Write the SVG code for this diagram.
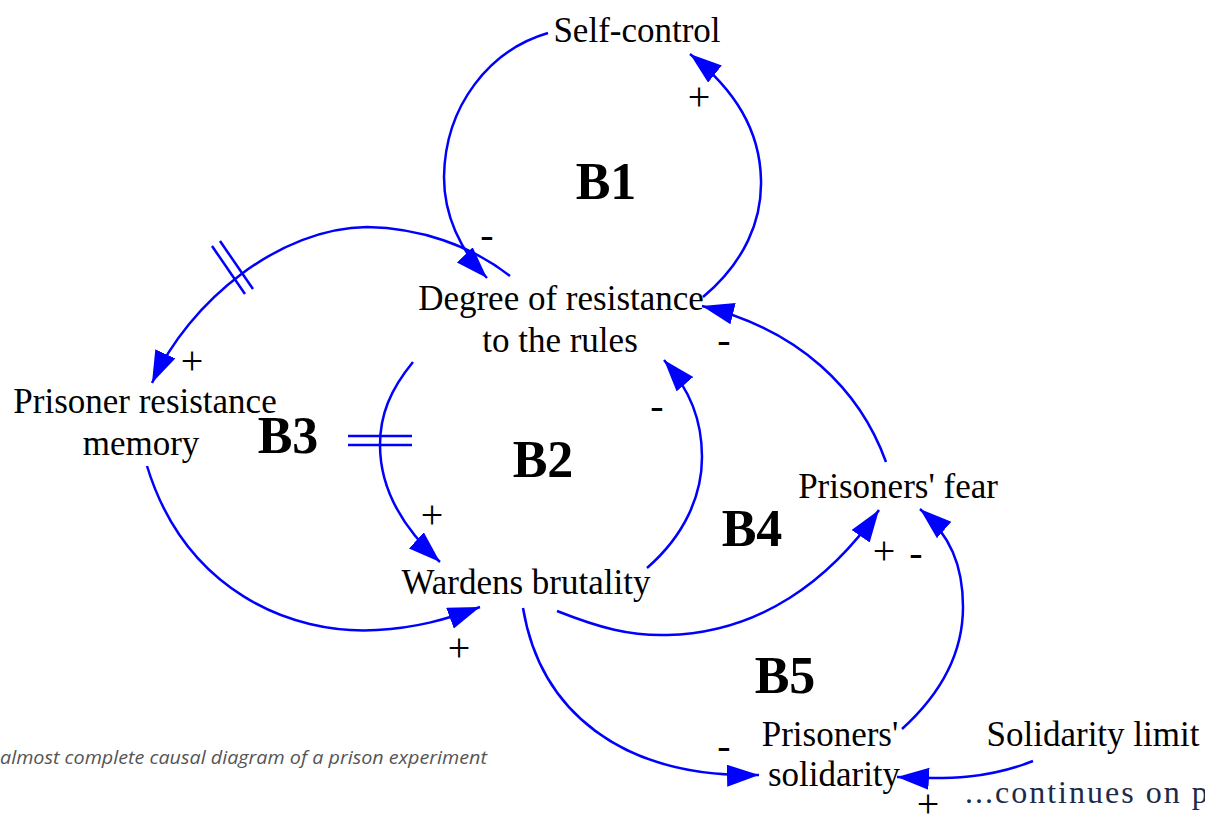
<svg xmlns="http://www.w3.org/2000/svg" width="1205" height="816" viewBox="0 0 1205 816">
<style>
.node{font-family:"Liberation Serif","Times New Roman",serif;font-size:35px;fill:#000;text-anchor:middle}
.loop{font-family:"Liberation Serif","Times New Roman",serif;font-size:52px;font-weight:bold;fill:#000;text-anchor:middle}
.pol{font-family:"Liberation Serif","Times New Roman",serif;font-size:40px;fill:#000;text-anchor:middle}
.link{fill:none;stroke:#0000ff;stroke-width:2.5;marker-end:url(#arr)}
.delay{stroke:#0000ff;stroke-width:2.5;fill:none}
.cap{font-family:"Open Sans","Liberation Sans",sans-serif;font-style:italic;font-size:19px;fill:#555}
.cont{font-family:"Liberation Serif","Times New Roman",serif;font-size:32px;fill:#1c2b4a;letter-spacing:2px}
</style>
<defs>
<marker id="arr" markerUnits="userSpaceOnUse" markerWidth="34" markerHeight="24" refX="32" refY="11" orient="auto">
<path d="M0,0 L32,11 L0,22 z" fill="#0000ff"/>
</marker>
</defs>
<rect width="1205" height="816" fill="#fff"/>
<g id="connectors">
<path class="link" d="M548,33 C490,50 445,105 444,177 C444,215 460,250 487,278"/>
<path class="link" d="M703,297 C745,262 762,220 761,180 C760,130 735,90 690,54"/>
<path class="link" d="M510,276 C470,245 420,228 367,227 C280,228 190,300 152,383"/>
<path class="link" d="M413,362 C390,390 380,415 380,445 C380,490 405,530 440,562"/>
<path class="link" d="M647,568 C685,535 702,495 702,457 C702,420 690,390 664,360"/>
<path class="link" d="M147,466 C185,590 290,635 377,630 C415,628 445,620 480,607"/>
<path class="link" d="M557,611 C600,628 630,636 667,635 C760,633 830,580 879,510"/>
<path class="link" d="M886,462 C860,390 800,330 702,306"/>
<path class="link" d="M902,729 C945,690 963,650 963,607 C963,565 950,535 920,509"/>
<path class="link" d="M523,608 C540,710 620,778 759,775"/>
<path class="link" d="M1033,761 C990,778 950,780 897,777"/>
<g id="delays">
<line class="delay" x1="212" y1="246" x2="245" y2="294"/>
<line class="delay" x1="220" y1="241" x2="253" y2="289"/>
<line class="delay" x1="348" y1="436" x2="412" y2="436"/>
<line class="delay" x1="348" y1="445" x2="412" y2="445"/>
</g>
</g>
<g id="self-control"><text class="node" x="637" y="42">Self-control</text></g>
<g id="degree-of-resistance"><text class="node" x="561" y="310">Degree of resistance</text><text class="node" x="560" y="352">to the rules</text></g>
<g id="prisoner-resistance-memory"><text class="node" x="145" y="413">Prisoner resistance</text><text class="node" x="141" y="455">memory</text></g>
<g id="wardens-brutality"><text class="node" x="526" y="594">Wardens brutality</text></g>
<g id="prisoners-fear"><text class="node" x="898" y="498">Prisoners' fear</text></g>
<g id="prisoners-solidarity"><text class="node" x="830" y="746">Prisoners'</text><text class="node" x="834" y="786">solidarity</text></g>
<g id="solidarity-limit"><text class="node" x="1093" y="746">Solidarity limit</text></g>
<g id="loops">
<text class="loop" x="606" y="199">B1</text>
<text class="loop" x="543" y="477">B2</text>
<text class="loop" x="288" y="453">B3</text>
<text class="loop" x="752" y="546">B4</text>
<text class="loop" x="785" y="693">B5</text>
</g>
<g id="polarities">
<text class="pol" x="699" y="110">+</text>
<text class="pol" x="487" y="248">-</text>
<text class="pol" x="724" y="353">-</text>
<text class="pol" x="192" y="374">+</text>
<text class="pol" x="432" y="528">+</text>
<text class="pol" x="657" y="419">-</text>
<text class="pol" x="459" y="661">+</text>
<text class="pol" x="884" y="564">+</text>
<text class="pol" x="916" y="566">-</text>
<text class="pol" x="724" y="759">-</text>
<text class="pol" x="928" y="817">+</text>
</g>
<text class="cap" x="0" y="764" textLength="487" lengthAdjust="spacingAndGlyphs">almost complete causal diagram of a prison experiment</text>
<text class="cont" x="965" y="803">...continues on p</text>
</svg>
